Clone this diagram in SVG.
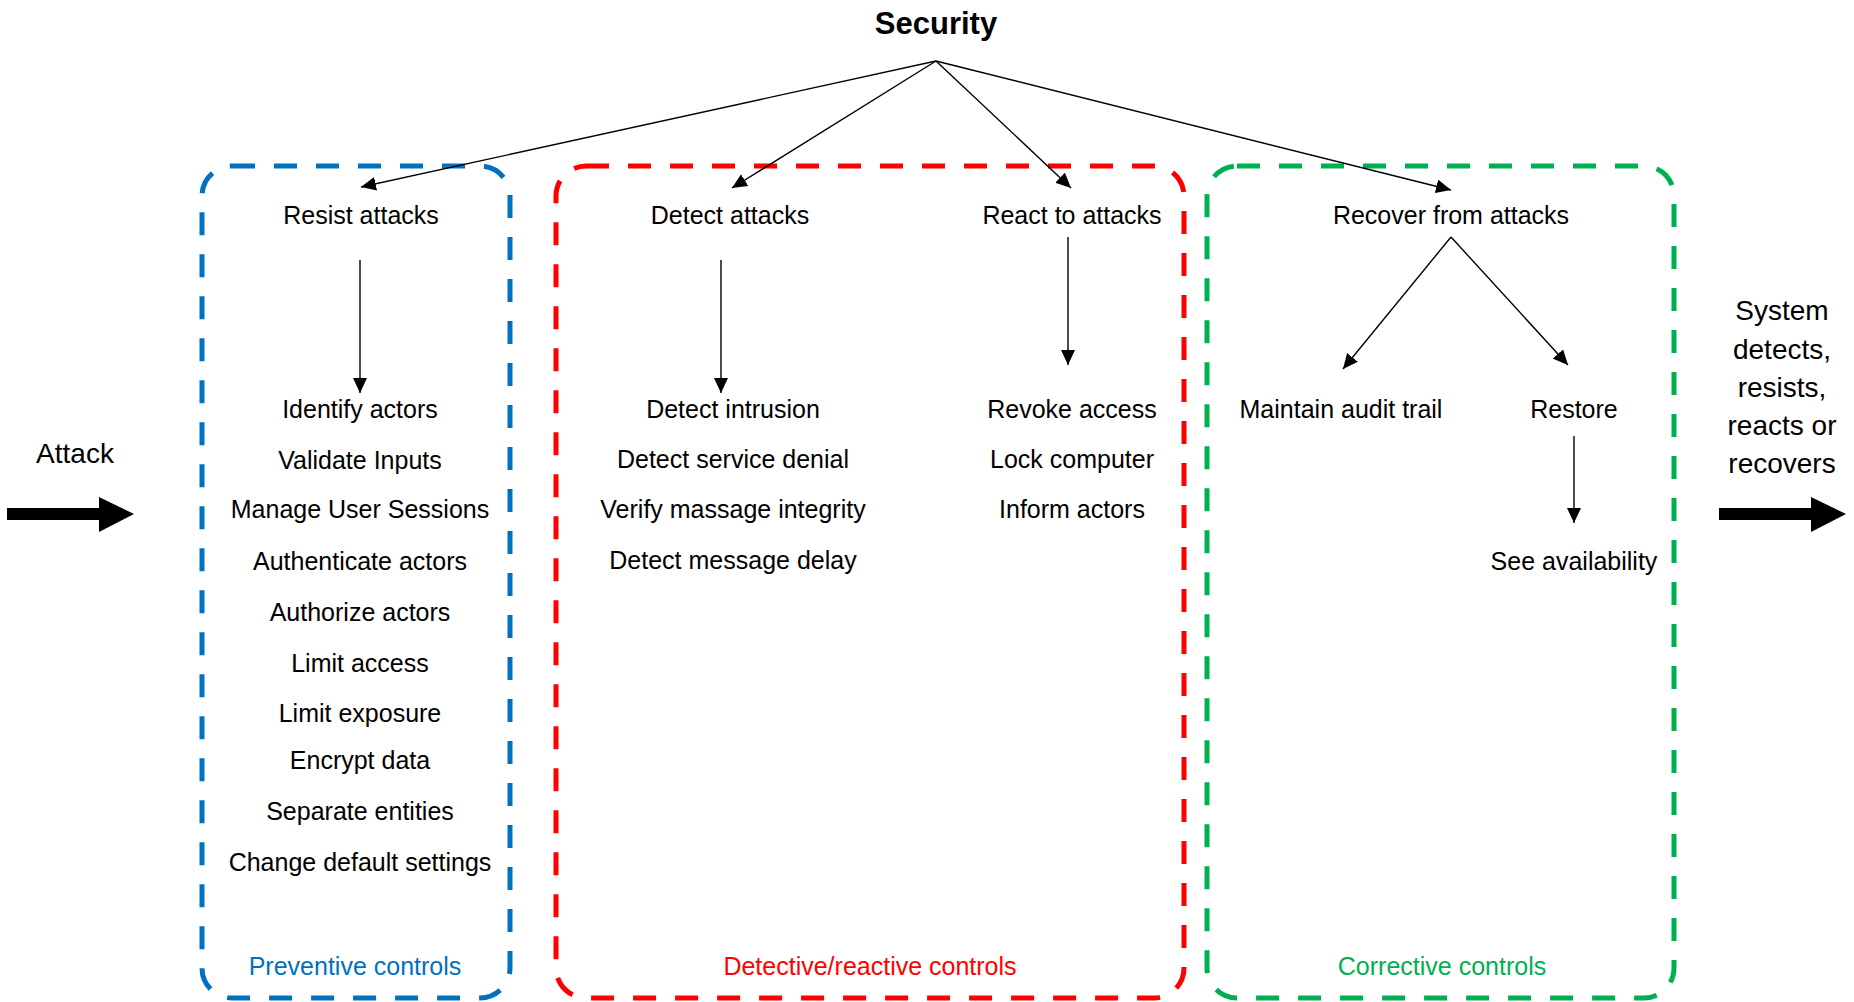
<svg xmlns="http://www.w3.org/2000/svg" width="1854" height="1002" viewBox="0 0 1854 1002">
  <style>
    text { font-family: "Liberation Sans", Arial, sans-serif; font-size: 25px; fill: #000; text-anchor: middle; }
    .title { font-size: 31px; font-weight: bold; }
    .side { font-size: 28px; }
    .frame { fill: none; stroke-width: 5; stroke-dasharray: 23 19; }
    .blue { stroke: #0070C0; }
    .red { stroke: #FF0000; }
    .green { stroke: #00B050; }
    .lbl-blue { fill: #0070C0; }
    .lbl-red { fill: #FF0000; }
    .lbl-green { fill: #00B050; }
    .link { fill: none; stroke: #000; stroke-width: 1.4; marker-end: url(#head); }
    .big { fill: #000; }
  </style>
  <defs>
    <marker id="head" markerUnits="userSpaceOnUse" markerWidth="16" markerHeight="14" refX="15" refY="7" orient="auto">
      <path d="M0,0 L15,7 L0,14 z" fill="#000"/>
    </marker>
  </defs>

  <rect width="1854" height="1002" fill="#fff"/>

  <!-- control group frames -->
  <g id="preventive-frame">
    <rect class="frame blue" x="202" y="166" width="308" height="832" rx="30" ry="30"/>
    <text class="lbl-blue" x="355" y="975">Preventive controls</text>
  </g>
  <g id="detective-frame">
    <rect class="frame red" x="556" y="166" width="628" height="832" rx="30" ry="30"/>
    <text class="lbl-red" x="870" y="975">Detective/reactive controls</text>
  </g>
  <g id="corrective-frame">
    <rect class="frame green" x="1207" y="166" width="467" height="832" rx="30" ry="30"/>
    <text class="lbl-green" x="1442" y="975">Corrective controls</text>
  </g>

  <!-- root -->
  <g id="security">
    <text class="title" x="936" y="34">Security</text>
  </g>

  <!-- tactic nodes -->
  <g id="resist">
    <text x="361" y="224">Resist attacks</text>
  </g>
  <g id="resist-tactics">
    <text x="360" y="418">Identify actors</text>
    <text x="360" y="469">Validate Inputs</text>
    <text x="360" y="518">Manage User Sessions</text>
    <text x="360" y="570">Authenticate actors</text>
    <text x="360" y="621">Authorize actors</text>
    <text x="360" y="672">Limit access</text>
    <text x="360" y="722">Limit exposure</text>
    <text x="360" y="769">Encrypt data</text>
    <text x="360" y="820">Separate entities</text>
    <text x="360" y="871">Change default settings</text>
  </g>

  <g id="detect">
    <text x="730" y="224">Detect attacks</text>
  </g>
  <g id="detect-tactics">
    <text x="733" y="418">Detect intrusion</text>
    <text x="733" y="468">Detect service denial</text>
    <text x="733" y="518">Verify massage integrity</text>
    <text x="733" y="569">Detect message delay</text>
  </g>

  <g id="react">
    <text x="1072" y="224">React to attacks</text>
  </g>
  <g id="react-tactics">
    <text x="1072" y="418">Revoke access</text>
    <text x="1072" y="468">Lock computer</text>
    <text x="1072" y="518">Inform actors</text>
  </g>

  <g id="recover">
    <text x="1451" y="224">Recover from attacks</text>
  </g>
  <g id="audit">
    <text x="1341" y="418">Maintain audit trail</text>
  </g>
  <g id="restore">
    <text x="1574" y="418">Restore</text>
  </g>
  <g id="availability">
    <text x="1574" y="570">See availability</text>
  </g>

  <!-- input / output -->
  <g id="attack">
    <text class="side" x="75" y="463">Attack</text>
    <polygon class="big" points="7,508 99,508 99,497 134,514 99,532 99,520 7,520"/>
  </g>
  <g id="response">
    <text class="side" x="1782" y="320">System</text>
    <text class="side" x="1782" y="359">detects,</text>
    <text class="side" x="1782" y="397">resists,</text>
    <text class="side" x="1782" y="435">reacts or</text>
    <text class="side" x="1782" y="473">recovers</text>
    <polygon class="big" points="1719,508 1811,508 1811,497 1846,514 1811,532 1811,520 1719,520"/>
  </g>

  <!-- connectors -->
  <g id="connectors">
    <line class="link" x1="936" y1="61" x2="361" y2="187"/>
    <line class="link" x1="936" y1="61" x2="732" y2="188"/>
    <line class="link" x1="936" y1="61" x2="1071" y2="188"/>
    <line class="link" x1="936" y1="61" x2="1451" y2="190"/>
    <line class="link" x1="360" y1="260" x2="360" y2="393"/>
    <line class="link" x1="721" y1="260" x2="721" y2="393"/>
    <line class="link" x1="1068" y1="237" x2="1068" y2="365"/>
    <line class="link" x1="1451" y1="237" x2="1343" y2="369"/>
    <line class="link" x1="1451" y1="237" x2="1568" y2="365"/>
    <line class="link" x1="1574" y1="436" x2="1574" y2="523"/>
  </g>
</svg>
